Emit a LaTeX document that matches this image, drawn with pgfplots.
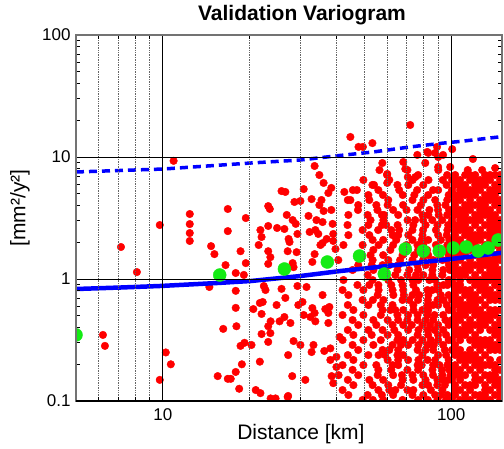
\documentclass[border=0pt]{standalone}
\usepackage{fontspec}
\setmainfont{Liberation Sans}
\usepackage{pgfplots}
\usepackage{pgfplotstable}
\pgfplotsset{compat=1.18}
\definecolor{vgreen}{RGB}{20,235,20}

\pgfplotstableread{
x y
7.16 1.83
8.13 1.14
9.76 2.77
6.20 0.348
6.30 0.283
10.24 0.25
9.76 0.149
10.66 0.20
10.9 9.3
12.4 3.41
12.4 2.82
12.4 2.38
12.4 2.05
16.8 3.75
19.4 3.16
16.8 2.47
14.7 1.86
15.1 1.60
16.5 1.30
18.6 1.69
19.4 1.35
23.2 3.96
23.5 3.75
25.8 5.26
26.6 5.17
21.8 2.52
23.2 2.72
24.9 2.62
26.4 2.57
22.0 2.21
21.5 1.90
23.2 1.69
23.6 1.51
26.9 3.35
28.2 3.04
28.9 2.83
29.3 2.34
27.3 2.13
27.5 2.01
27.1 1.69
29.1 1.66
30.8 5.46
30.0 4.36
28.6 4.28
33.6 8.44
34.9 7.12
36.1 6.13
38.4 5.58
37.5 5.07
32.8 4.52
35.5 4.44
34.9 4.04
36.1 3.61
38.4 3.68
32.0 3.29
34.1 3.04
35.8 2.93
38.8 2.83
32.3 2.43
33.8 2.52
34.6 2.34
39.0 2.34
37.0 2.13
35.8 1.97
35.2 1.90
39.0 2.05
39.7 1.76
33.6 1.60
33.0 1.38
28.4 1.25
28.2 1.35
23.2 1.33
17.9 1.12
19.1 1.08
14.5 0.86
17.9 0.80
17.9 0.58
16.2 0.39
18.0 0.41
15.5 0.16
16.8 0.152
17.2 0.152
17.9 0.173
18.8 0.20
18.4 0.126
18.6 0.283
19.2 0.30
20.3 0.288
21.0 0.123
21.8 0.116
21.7 0.21
23.65 0.105
24.6 0.105
27.2 0.11
28.1 0.16
27.2 0.238
23.2 0.305
22.0 0.354
23.6 0.36
23.2 0.41
23.65 0.45
22.0 0.517
20.6 0.567
21.7 0.636
22.2 0.648
24.8 0.612
25.4 0.45
26.4 0.488
27.7 0.436
26.6 0.70
25.8 0.83
22.7 0.812
22.4 0.876
29.5 0.612
30.5 0.648
29.3 0.876
31.5 0.86
30.8 0.507
33.0 0.578
33.6 0.527
32.5 0.488
33.8 0.45
36.6 0.567
37.8 0.59
37.5 0.527
37.5 0.436
35.8 0.739
33.3 0.288
32.8 0.252
30.0 0.288
28.4 0.31
36.3 0.257
38.1 0.27
40.0 0.23
38.1 0.217
40.0 0.19
40.7 0.163
38.5 0.16
39.0 0.14
31.2 0.149
41.0 0.335
72.1 18.3
44.7 14.6
47.7 12.1
49.4 12.1
53.3 13.0
68.2 9.10
57.7 8.93
56.4 7.82
60.0 7.26
69.3 7.98
70.7 6.85
75.1 6.85
82.6 11.0
81.3 8.93
90.1 10.0
93.7 10.4
90.1 8.28
99.2 8.28
118.9 9.63
114.1 7.82
128.0 7.82
142.0 8.12
100.8 11.6
89.3 12.1
76.3 10.4
83.3 10.8
88.0 10.8
42.6 5.17
47.1 5.36
53.3 5.90
60.0 6.13
44.7 4.44
24.6 0.10
27.1 0.108
}\sparsetab

\pgfplotstableread{
y a b c d e f g h i j
7.82 70.5 90.2 nan nan nan nan nan nan nan nan
7.12 59.9 76.8 96.8 nan nan nan nan nan nan nan
6.48 49.6 73.5 83.4 nan nan nan nan nan 93.5 61.0
5.90 65.1 80.0 96.4 nan nan nan nan nan 71.0 54.0
5.36 45.6 55.9 76.2 90.1 nan nan nan nan 86.5 66.0
4.88 51.6 67.9 83.2 98.0 nan nan nan nan 74.5 58.0
4.44 43.8 60.5 73.4 80.1 96.9 nan nan nan 88.0 52.0
4.04 47.6 60.2 68.1 89.5 nan nan nan 78.5 95.5 55.0
3.68 55.5 62.9 76.4 90.0 98.3 nan nan 84.0 70.0 47.5
3.35 44.0 51.3 65.5 79.5 83.3 96.9 nan 58.5 90.5 57.5
3.04 58.2 70.6 79.9 93.1 nan nan nan 86.0 75.0 52.5
2.77 43.7 51.6 65.2 73.9 89.6 97.6 nan 57.5 81.5 59.5
2.52 49.3 55.8 73.4 79.9 97.0 nan nan 88.5 66.0 62.0
2.29 44.0 62.6 65.5 79.5 90.1 nan nan 71.0 96.5 52.0
2.09 53.4 58.1 73.4 83.2 98.5 nan nan 92.0 79.0 64.5
1.90 42.3 49.3 62.9 76.4 80.0 97.0 nan 70.0 88.5 56.0
1.73 53.7 70.6 76.8 89.6 nan nan nan 96.0 82.5 61.5
1.57 47.3 58.1 67.8 83.2 98.0 nan nan 74.5 91.0 52.5
1.43 40.6 53.4 60.5 73.4 79.9 93.2 nan 86.5 96.5 66.5
1.30 47.6 57.8 65.5 76.4 86.6 98.2 nan 61.0 81.5 53.0
1.185 45.5 53.7 65.1 76.8 86.1 93.8 nan 71.5 99.0 59.0
1.078 51.3 58.1 70.5 80.0 93.2 nan nan 86.0 75.5 64.0
0.981 42.3 53.4 60.5 73.4 76.9 98.0 nan 88.0 84.0 67.0
0.893 47.3 55.9 67.8 73.9 89.5 94.0 nan 62.0 97.0 52.0
0.812 42.0 49.6 62.6 68.2 82.7 90.2 nan 75.5 86.0 56.0
0.739 44.0 55.6 63.0 73.4 83.3 98.0 nan 92.0 77.5 68.5
0.673 49.3 58.2 67.8 76.8 89.6 94.0 nan 71.5 83.0 53.5
0.612 43.8 51.6 62.6 73.9 82.8 90.1 nan 96.5 86.5 57.0
0.557 45.8 57.8 68.2 79.5 83.2 98.1 nan 64.0 74.0 61.5
0.507 42.0 49.6 65.1 70.9 82.8 93.8 nan 87.5 76.5 57.0
0.461 45.5 53.7 60.2 65.5 76.5 86.6 nan 95.5 81.5 70.5
0.420 47.6 62.6 68.2 79.5 90.1 98.0 nan 73.0 84.5 55.0
0.382 43.8 51.6 57.8 70.9 82.8 93.8 nan 87.5 77.0 63.5
0.348 45.8 60.2 65.5 76.5 83.2 nan nan 96.0 90.0 53.0
0.316 42.0 49.6 65.1 68.2 79.5 90.1 98.0 73.5 85.0 57.0
0.288 45.5 53.7 62.6 70.9 82.8 93.8 nan 87.0 77.0 67.0
0.262 47.6 57.8 65.5 76.5 86.6 nan nan 95.0 81.5 61.0
0.238 43.8 51.6 65.1 68.2 79.5 90.1 nan 59.0 96.0 56.0
0.217 45.8 60.2 70.9 82.8 98.0 nan nan 88.0 77.0 65.5
0.197 42.0 49.6 62.6 65.5 76.5 86.6 97.0 79.0 91.0 55.0
0.180 45.5 55.9 70.5 76.8 86.1 nan nan 93.0 98.5 62.0
0.163 47.6 55.6 62.9 73.4 80.0 93.2 nan 86.5 99.5 67.5
0.149 43.8 58.1 67.8 73.9 89.6 97.6 nan 81.5 93.5 52.0
0.135 45.8 53.4 60.5 79.5 83.2 nan nan 95.0 89.5 67.0
0.123 42.0 55.9 70.5 73.9 93.2 nan nan 64.0 85.0 61.0
0.112 44.0 51.3 62.9 73.4 80.0 97.0 nan 88.0 92.0 57.5
0.102 49.3 58.1 67.8 76.8 89.6 nan nan 96.0 83.0 53.5
}\midtab

\pgfplotstableread{
y p q r s t u v w z o k
7.12 103.2 111.8 121.1 131.1 142.0 nan 116.3 nan 136.4 147.7 nan
6.48 107.4 116.3 126.0 136.4 147.7 103.2 nan 121.1 131.1 nan 100.6
5.90 103.2 111.8 121.1 131.1 142.0 107.4 nan 126.0 nan 147.7 nan
5.36 107.4 116.3 126.0 136.4 147.7 nan 111.8 121.1 nan 142.0 100.6
4.88 103.2 111.8 121.1 131.1 142.0 107.4 116.3 nan 136.4 nan nan
4.44 107.4 116.3 126.0 136.4 147.7 103.2 nan nan 131.1 142.0 nan
4.04 103.2 111.8 121.1 131.1 142.0 nan 116.3 126.0 nan 147.7 nan
3.68 107.4 116.3 126.0 136.4 147.7 103.2 111.8 nan 131.1 nan 100.6
3.35 103.2 111.8 121.1 131.1 142.0 107.4 nan 126.0 136.4 nan nan
3.04 107.4 116.3 126.0 136.4 147.7 nan 111.8 121.1 nan 142.0 100.6
2.77 103.2 111.8 121.1 131.1 142.0 107.4 nan nan 136.4 147.7 nan
2.52 107.4 116.3 126.0 136.4 147.7 103.2 111.8 nan nan 142.0 nan
2.29 103.2 111.8 121.1 131.1 142.0 nan 116.3 126.0 136.4 nan nan
2.09 107.4 116.3 126.0 136.4 147.7 103.2 nan 121.1 nan 142.0 100.6
1.90 103.2 111.8 121.1 131.1 142.0 107.4 116.3 nan nan 147.7 nan
1.73 107.4 116.3 126.0 136.4 147.7 nan 111.8 121.1 131.1 nan 100.6
1.57 103.2 111.8 121.1 131.1 142.0 107.4 nan 126.0 nan 147.7 nan
1.43 107.4 116.3 126.0 136.4 147.7 103.2 nan nan 131.1 142.0 nan
1.30 103.2 111.8 121.1 131.1 142.0 nan 116.3 126.0 136.4 nan nan
1.185 107.4 116.3 126.0 136.4 147.7 103.2 111.8 nan nan 142.0 100.6
1.078 103.2 111.8 121.1 131.1 142.0 107.4 nan nan 136.4 147.7 nan
0.981 107.4 116.3 126.0 136.4 147.7 nan nan 121.1 131.1 142.0 100.6
0.893 103.2 nan 121.1 131.1 142.0 107.4 nan 126.0 nan 147.7 nan
0.812 107.4 116.3 126.0 136.4 147.7 103.2 111.8 nan 131.1 nan nan
0.739 103.2 111.8 121.1 131.1 142.0 nan 116.3 nan 136.4 147.7 nan
0.673 107.4 116.3 126.0 136.4 147.7 103.2 nan 121.1 nan 142.0 100.6
0.612 103.2 111.8 121.1 131.1 nan 107.4 116.3 nan nan nan nan
0.557 107.4 116.3 126.0 136.4 147.7 nan 111.8 121.1 nan 142.0 100.6
0.507 103.2 111.8 121.1 131.1 142.0 107.4 nan 126.0 136.4 nan nan
0.461 107.4 116.3 126.0 136.4 147.7 103.2 nan nan 131.1 nan 100.6
0.420 103.2 111.8 121.1 131.1 142.0 nan 116.3 126.0 nan 147.7 nan
0.382 107.4 116.3 126.0 136.4 147.7 103.2 111.8 nan nan 142.0 nan
0.348 103.2 111.8 121.1 nan 142.0 107.4 nan nan nan 147.7 nan
0.316 107.4 116.3 126.0 136.4 147.7 nan nan 121.1 131.1 nan 100.6
0.288 103.2 nan 121.1 131.1 142.0 nan nan 126.0 136.4 147.7 nan
0.262 107.4 116.3 126.0 136.4 147.7 103.2 nan nan nan 142.0 100.6
0.238 103.2 111.8 121.1 131.1 nan 107.4 116.3 nan nan nan nan
0.217 107.4 116.3 126.0 136.4 147.7 nan 111.8 121.1 nan nan nan
0.197 103.2 111.8 121.1 131.1 142.0 nan nan 126.0 136.4 nan nan
0.180 107.4 116.3 126.0 nan 147.7 103.2 nan nan nan 142.0 100.6
0.163 103.2 111.8 121.1 131.1 142.0 107.4 nan nan 136.4 nan nan
0.149 107.4 nan 126.0 136.4 147.7 nan nan 121.1 nan 142.0 100.6
0.135 103.2 111.8 121.1 131.1 142.0 nan 116.3 nan nan 147.7 nan
0.123 107.4 116.3 nan 136.4 147.7 103.2 nan nan 131.1 nan nan
0.112 103.2 111.8 121.1 131.1 142.0 nan nan 126.0 nan 147.7 nan
0.102 107.4 116.3 126.0 136.4 147.7 nan 111.8 nan 131.1 nan 100.6
}\densetab

\begin{document}
\begin{tikzpicture}
\begin{axis}[
  name=ax,
  at={(0,0)}, anchor=south west,
  scale only axis, width=426pt, height=366pt,
  xmode=log, ymode=log,
  xmin=5, xmax=150, ymin=0.1, ymax=100,
  xtick={10,100}, xticklabels={10,100},
  ytick={0.1,1,10,100}, yticklabels={0.1,1,10,100},
  minor xtick={6,7,8,9,20,30,40,50,60,70,80,90},
  minor ytick={0.2,0.3,0.4,0.5,0.6,0.7,0.8,0.9,2,3,4,5,6,7,8,9,20,30,40,50,60,70,80,90},
  xmajorgrids, ymajorgrids, xminorgrids,
  major grid style={black, line width=0.8pt},
  minor grid style={black!60, line width=0.7pt, densely dotted},
  tick align=inside,
  major tick length=6pt, minor tick length=4pt,
  every tick/.style={black, line width=0.7pt},
  axis line style={black!55, line width=1.1pt},
  axis on top,
  clip marker paths=true,
  tick label style={font=\fontsize{17}{20}\selectfont},
  yticklabel style={xshift=-2pt},
  xticklabel style={yshift=-4pt},
  title={Validation Variogram},
  title style={at={(axis description cs:0.5305,1)}, anchor=base, yshift=9pt, font=\bfseries\fontsize{21}{24}\selectfont},
  xlabel={Distance [km]},
  xlabel style={at={(axis description cs:0.528,0)}, anchor=base, yshift=-38pt, font=\fontsize{21}{24}\selectfont},
  ylabel={[mm²/y²]},
  ylabel style={at={(axis description cs:-0.1315,0.527)}, anchor=center, font=\fontsize{21}{24}\selectfont},
  redpts/.style={only marks, mark=*, mark size=3.8pt, color=red},
]
\addplot[redpts] table[x=x,y=y]{\sparsetab};
\pgfplotsinvokeforeach{a,b,c,d,e,f,g,h,i,j}{
  \addplot[redpts] table[x=#1,y=y]{\midtab};
}
\pgfplotsinvokeforeach{p,q,r,s,t,u,v,w,z,o,k}{
  \addplot[redpts] table[x=#1,y=y]{\densetab};
}
\addplot[blue, line width=4.5pt, no marks] coordinates {
(5,0.828) (7.16,0.852) (9.84,0.877) (15.4,0.927) (20.2,0.963) (30,1.058) (41.3,1.163) (56.8,1.26) (100,1.46) (150,1.64)};
\addplot[blue, line width=3.5pt, no marks, dash pattern=on 8pt off 5pt] coordinates {
(5,7.54) (10,7.97) (20.2,8.93) (30,9.45) (39.7,10.2) (53.7,11.0) (72.1,12.1) (93.7,13.0) (110,13.5) (150,14.7)};
\addplot[only marks, mark=*, mark size=6.5pt, color=vgreen] coordinates {
(5,0.348) (15.75,1.078) (26.4,1.208) (37.2,1.378) (48.1,1.543) (58.6,1.099) (69.3,1.762) (80.0,1.696) (90.9,1.696) (101.6,1.795) (112.7,1.829) (124.0,1.696) (134.3,1.795) (145.4,2.087)};
\end{axis}
\draw[black, line width=1.1pt] (ax.south west) -- (ax.south east);
\pgfresetboundingbox
\path (-76pt,-47pt) rectangle (428pt,401pt);
\end{tikzpicture}
\end{document}
